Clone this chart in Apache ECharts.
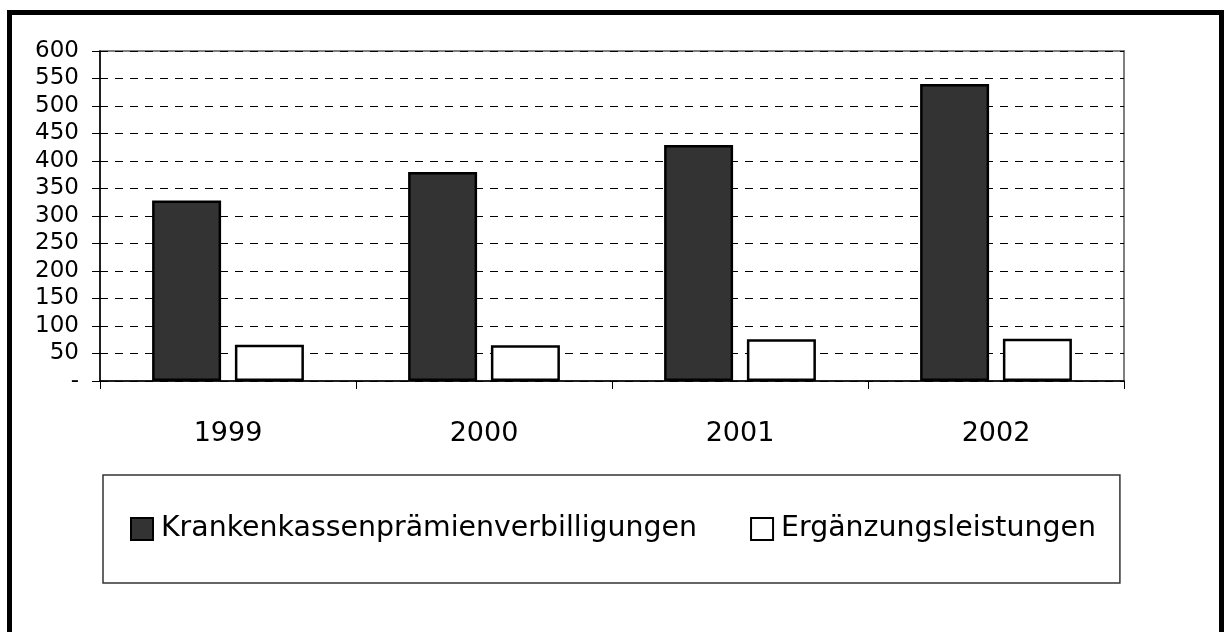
<!DOCTYPE html>
<html>
<head>
<meta charset="utf-8">
<script src="https://cdn.jsdelivr.net/npm/echarts@6/dist/echarts.min.js"></script>
<style>
  html, body { margin: 0; padding: 0; background: #fff; }
  #chart { width: 1228px; height: 632px; }
</style>
</head>
<body>
<div id="chart"></div>
<script>
const categories = ['1999', '2000', '2001', '2002'];
const seriesNames = ['Krankenkassenprämienverbilligungen', 'Ergänzungsleistungen'];
const praemienValues = [328, 380, 429, 540];
const ergaenzungValues = [66, 65, 76, 77];

const chart = echarts.init(document.getElementById('chart'), null, { renderer: 'canvas' });
const FONT = 'DejaVu Sans';

chart.setOption({
  animation: false,
  backgroundColor: '#ffffff',
  textStyle: { fontFamily: FONT, color: '#000' },
  graphic: [
    {
      type: 'rect',
      shape: { x: 9.5, y: 12.5, width: 1212, height: 640 },
      style: { fill: 'none', stroke: '#000', lineWidth: 5 },
      silent: true
    }
  ],
  grid: {
    left: 100, top: 51, right: 104, bottom: 251,
    show: true, borderColor: '#808080', borderWidth: 2, backgroundColor: 'transparent'
  },
  legend: {
    left: 103, top: 475,
    padding: [40, 24, 40, 27],
    itemGap: 53,
    itemWidth: 22, itemHeight: 22,
    icon: 'rect',
    borderColor: '#333', borderWidth: 1.5,
    backgroundColor: '#fff',
    textStyle: { fontFamily: FONT, fontSize: 28.4, color: '#000', padding: [0, 0, 0, 3] },
    data: seriesNames
  },
  xAxis: {
    type: 'category',
    data: categories,
    boundaryGap: true,
    axisLine: { lineStyle: { color: '#000', width: 1.5 } },
    axisTick: { show: true, inside: false, length: 8, interval: 0, lineStyle: { color: '#000' } },
    axisLabel: { fontFamily: FONT, fontSize: 27, color: '#000', margin: 39 }
  },
  yAxis: {
    type: 'value',
    min: 0, max: 600, interval: 50,
    axisLine: { show: true, lineStyle: { color: '#000', width: 1.5 } },
    axisTick: { show: true, inside: false, length: 8, lineStyle: { color: '#000' } },
    axisLabel: {
      fontFamily: FONT, fontSize: 23, color: '#000', margin: 21,
      formatter: v => v === 0 ? '-' : String(v)
    },
    splitLine: { show: true, lineStyle: { color: '#000', type: [8, 7], width: 1 } }
  },
  series: [
    {
      name: seriesNames[0], type: 'bar', data: praemienValues,
      barWidth: 69, barGap: '20%',
      itemStyle: { color: '#333333', borderColor: '#000', borderWidth: 2.5 }
    },
    {
      name: seriesNames[1], type: 'bar', data: ergaenzungValues,
      barWidth: 69, barGap: '20%',
      itemStyle: { color: '#ffffff', borderColor: '#000', borderWidth: 2.5 }
    }
  ]
});
</script>
</body>
</html>
